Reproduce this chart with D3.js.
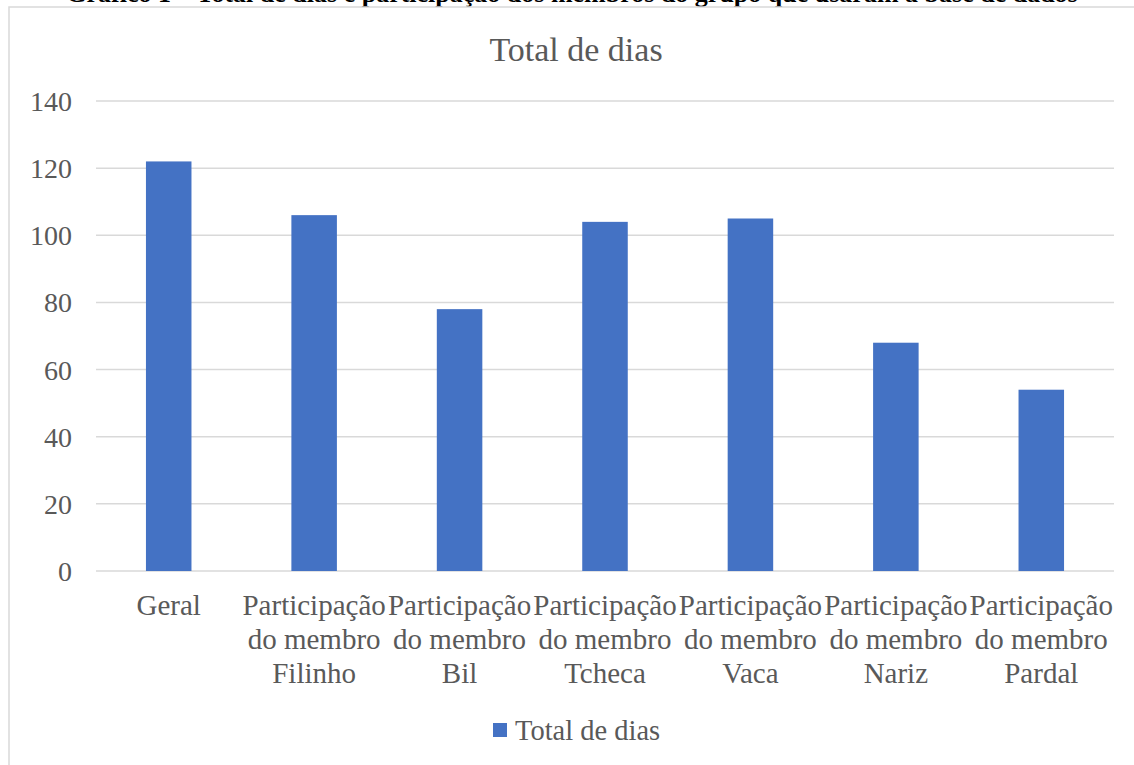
<!DOCTYPE html>
<html><head><meta charset="utf-8">
<script src="https://cdn.jsdelivr.net/npm/d3@7"></script>
<style>body{margin:0;background:#fff;}svg{display:block;}</style>
</head><body>
<svg id="c" width="1134" height="765"></svg>
<script>
const categories = ["Geral","Participação do membro Filinho","Participação do membro Bil","Participação do membro Tcheca","Participação do membro Vaca","Participação do membro Nariz","Participação do membro Pardal"];
const categoryLines = [["Geral"],["Participação","do membro","Filinho"],["Participação","do membro","Bil"],["Participação","do membro","Tcheca"],["Participação","do membro","Vaca"],["Participação","do membro","Nariz"],["Participação","do membro","Pardal"]];
const values = [122,106,78,104,105,68,54];
const yTicks = [0,20,40,60,80,100,120,140];
const seriesName = "Total de dias";
const chartTitle = "Total de dias";
const docTitle = "Gráfico 1 – Total de dias e participação dos membros do grupo que usaram a base de dados";

(function(){
const svg = d3.select("#c");
const font = "Liberation Serif, Times New Roman, serif";
const textColor = "#595959";

// cut-off document title (clipped at the top edge as in the reference)
svg.append("text").attr("x",572).attr("y",2).attr("text-anchor","middle")
  .attr("font-family",font).attr("font-weight","bold").attr("font-size",26).attr("fill","#000").text(docTitle);

// chart frame
svg.append("rect").attr("x",9).attr("y",7).attr("width",1140).attr("height",780)
  .attr("fill","#fff").attr("stroke","#d9d9d9").attr("stroke-width",1.5);

const pLeft=96, pRight=1114, pTop=101, pBottom=571;
const x = d3.scaleBand().domain(categories).range([pLeft,pRight]).padding(0);
const y = d3.scaleLinear().domain([0,140]).range([pBottom,pTop]);

// gridlines
svg.append("g").selectAll("line").data(yTicks).join("line")
  .attr("x1",pLeft).attr("x2",pRight).attr("y1",d=>y(d)).attr("y2",d=>y(d))
  .attr("stroke","#d9d9d9").attr("stroke-width",1.5);

// y tick labels
const yAxis = svg.append("g").attr("transform",`translate(${pLeft},0)`)
  .call(d3.axisLeft(y).tickValues(yTicks).tickSize(0).tickPadding(24));
yAxis.select(".domain").remove();
yAxis.attr("font-family",null).attr("font-size",null);
yAxis.selectAll("text").attr("font-family",font).attr("font-size",28).attr("fill",textColor).attr("dy","0.34em");

// bars
const bw = x.bandwidth()*0.313;
svg.append("g").selectAll("rect").data(values).join("rect")
  .attr("x",(d,i)=>x(categories[i])+x.bandwidth()/2-bw/2)
  .attr("y",d=>y(d)).attr("width",bw).attr("height",d=>y(0)-y(d))
  .attr("fill","#4472c4");

// category labels
const cg = svg.append("g").selectAll("text").data(categories).join("text")
  .attr("x",d=>x(d)+x.bandwidth()/2).attr("y",615).attr("text-anchor","middle")
  .attr("font-family",font).attr("font-size",29).attr("fill",textColor);
cg.each(function(d,i){
  const t=d3.select(this);
  categoryLines[i].forEach((l,j)=>t.append("tspan").attr("x",x(d)+x.bandwidth()/2).attr("y",615+j*34).text(l));
});

// chart title
svg.append("text").attr("x",576).attr("y",61).attr("text-anchor","middle")
  .attr("font-family",font).attr("font-size",34).attr("fill",textColor).text(chartTitle);

// legend
svg.append("rect").attr("x",493).attr("y",723).attr("width",14).attr("height",14).attr("fill","#4472c4");
svg.append("text").attr("x",515).attr("y",740).attr("font-family",font).attr("font-size",28.5).attr("fill",textColor).text(seriesName);
})();
</script>
</body></html>
